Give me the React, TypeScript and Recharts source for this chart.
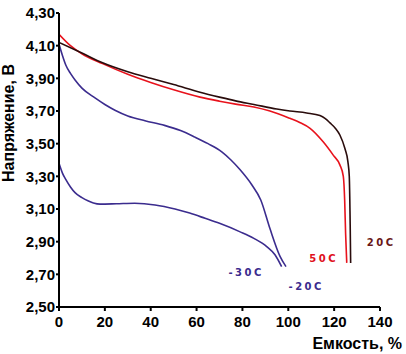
import React from 'react';
import { LineChart, Line, XAxis, YAxis, ReferenceDot, Label } from 'recharts';

// Емкость, % (x) and Напряжение, В (y) per temperature
const cap20 = [0, 10, 19, 30, 40, 50, 61.5, 70, 77, 85, 95, 100.7, 108, 113.8, 116, 118.2, 120.5, 122.5, 124.7, 126, 126.6, 127, 127.2];
const volt20 = [4.12, 4.055, 3.995, 3.94, 3.9, 3.862, 3.815, 3.785, 3.762, 3.74, 3.712, 3.7, 3.688, 3.672, 3.655, 3.627, 3.595, 3.553, 3.47, 3.39, 3.3, 3.0, 2.77];

const cap50 = [0, 5, 10, 19, 30, 40, 50, 61.5, 70, 77, 85, 92, 100.7, 105, 109.5, 115.3, 119.6, 122.5, 124, 124.6, 125, 125.5];
const volt50 = [4.17, 4.1, 4.05, 3.99, 3.925, 3.875, 3.83, 3.785, 3.76, 3.742, 3.725, 3.7, 3.655, 3.63, 3.594, 3.51, 3.43, 3.37, 3.3, 3.15, 2.95, 2.77];

const capM20 = [0, 1.5, 3, 5, 7, 10, 15.7, 20, 24.4, 30, 37.5, 46, 53, 59.3, 65, 71, 75, 79, 84, 88, 92, 96.4, 99];
const voltM20 = [4.11, 4.04, 3.98, 3.93, 3.89, 3.84, 3.78, 3.74, 3.705, 3.67, 3.64, 3.612, 3.58, 3.54, 3.5, 3.45, 3.4, 3.34, 3.25, 3.155, 2.98, 2.81, 2.747];

const capM30 = [0, 1.5, 3, 5, 7, 10, 12.6, 15, 17.9, 25, 33, 41.9, 50.6, 57, 63.7, 70, 79, 85, 90.6, 94.2, 97.1];
const voltM30 = [3.38, 3.32, 3.28, 3.235, 3.2, 3.17, 3.15, 3.137, 3.13, 3.132, 3.135, 3.125, 3.1, 3.075, 3.043, 3.012, 2.96, 2.92, 2.87, 2.82, 2.747];

const xTicks = [0, 20, 40, 60, 80, 100, 120, 140];
const yTicks = [2.5, 2.7, 2.9, 3.1, 3.3, 3.5, 3.7, 3.9, 4.1, 4.3];

const seriesLabels = ['-30C', '-20C', '50C', '20C'];
const labelX = [81.1, 107.3, 114.9, 140];
const labelY = [2.714, 2.628, 2.798, 2.896];

const build = (xs: number[], ys: number[]) => xs.map((x, i) => ({ x, y: ys[i] }));
const data20 = build(cap20, volt20);
const data50 = build(cap50, volt50);
const dataM20 = build(capM20, voltM20);
const dataM30 = build(capM30, voltM30);

const BLUE = '#3b2c8e';
const RED = '#e8121c';
const BLACK = '#2a0c0c';
const labelColors = [BLUE, BLUE, '#e01020', '#6a1818'];

const tickStyle = { fontFamily: '"Liberation Sans", Arial, sans-serif', fontWeight: 700, fontSize: 15, fill: '#000' };

export default function App() {
  return (
    <div style={{ position: 'absolute', left: 0, top: 0, width: 406, height: 354, background: '#fff' }}>
      <LineChart width={406} height={354} margin={{ top: 13, right: 26, bottom: 0, left: 0 }}>
        <XAxis
          type="number"
          dataKey="x"
          domain={[0, 140]}
          ticks={xTicks}
          height={47}
          stroke="#000"
          strokeWidth={2}
          tickSize={4}
          tickMargin={5}
          tick={tickStyle}
          allowDataOverflow
        >
          <Label
            content={() => (
              <text x={402} y={349} textAnchor="end" fontFamily='"Liberation Sans", Arial, sans-serif' fontWeight={700} fontSize={16} fill="#000">
                Емкость, %
              </text>
            )}
          />
        </XAxis>
        <YAxis
          type="number"
          domain={[2.5, 4.3]}
          ticks={yTicks}
          width={59}
          stroke="#000"
          strokeWidth={2}
          tickSize={3}
          tickMargin={1}
          tick={tickStyle}
          tickFormatter={(v: number) => v.toFixed(2).replace('.', ',')}
          allowDataOverflow
        >
          <Label
            content={() => (
              <text
                x={14}
                y={123}
                textAnchor="middle"
                transform="rotate(-90 14 123)"
                fontFamily='"Liberation Sans", Arial, sans-serif'
                fontWeight={700}
                fontSize={16}
                fill="#000"
              >
                Напряжение, В
              </text>
            )}
          />
        </YAxis>
        <Line data={dataM30} dataKey="y" type="monotone" stroke={BLUE} strokeWidth={1.6} dot={false} isAnimationActive={false} />
        <Line data={dataM20} dataKey="y" type="monotone" stroke={BLUE} strokeWidth={1.6} dot={false} isAnimationActive={false} />
        <Line data={data50} dataKey="y" type="monotone" stroke={RED} strokeWidth={1.6} dot={false} isAnimationActive={false} />
        <Line data={data20} dataKey="y" type="monotone" stroke={BLACK} strokeWidth={1.6} dot={false} isAnimationActive={false} />
        {seriesLabels.map((s, i) => (
          <ReferenceDot
            key={s}
            x={labelX[i]}
            y={labelY[i]}
            r={0}
            fill="none"
            stroke="none"
            ifOverflow="visible"
            label={(props: any) => {
              const vb = props.viewBox || {};
              const cx = (vb.x ?? 0) + (vb.width ?? 0) / 2;
              const cy = (vb.y ?? 0) + (vb.height ?? 0) / 2;
              return (
                <text
                  x={cx + 1.2}
                  y={cy}
                  dy="0.36em"
                  textAnchor="middle"
                  fontFamily='"DejaVu Sans", Verdana, sans-serif'
                  fontWeight={700}
                  fontSize={10}
                  letterSpacing={2.5}
                  fill={labelColors[i]}
                >
                  {s}
                </text>
              );
            }}
          />
        ))}
      </LineChart>
    </div>
  );
}
